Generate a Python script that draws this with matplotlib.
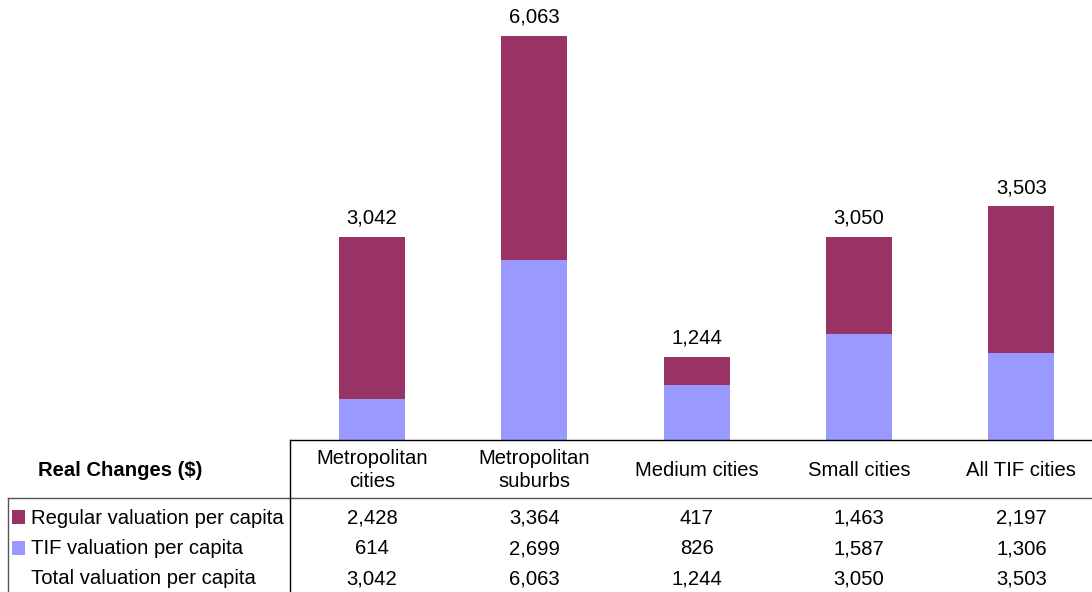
import matplotlib.pyplot as plt
import matplotlib.transforms as mtransforms
from matplotlib.lines import Line2D
from matplotlib.patches import Rectangle

plt.rcParams['font.family'] = ['Liberation Sans', 'DejaVu Sans']

categories = ['Metropolitan\ncities', 'Metropolitan\nsuburbs', 'Medium cities',
              'Small cities', 'All TIF cities']
regular = [2428, 3364, 417, 1463, 2197]
tif = [614, 2699, 826, 1587, 1306]
total = [3042, 6063, 1244, 3050, 3503]
row_labels = ['Regular valuation per capita', 'TIF valuation per capita',
              'Total valuation per capita']

regular_color = '#993366'
tif_color = '#9999FF'
fs = 14.6

W, H = 1092, 592
fig = plt.figure(figsize=(W / 100, H / 100), dpi=100)

# bar area sits above the data table; columns are ~162 px wide
col_w = 162.3
ax = fig.add_axes([291 / W, (H - 440) / H, 5 * col_w / W, 440 / H])
x = list(range(len(categories)))
ax.bar(x, tif, width=0.407, color=tif_color)
ax.bar(x, regular, width=0.407, bottom=tif, color=regular_color)
for xi, t in zip(x, total):
    ax.text(xi, t + 140, f'{t:,}', ha='center', va='bottom', fontsize=fs)
ax.set_xlim(-0.5, len(categories) - 0.5)
ax.set_ylim(0, 6600)
ax.axis('off')

# table: x follows the bar columns, y in figure pixels from the top
pix = mtransforms.Affine2D().scale(1, -1).translate(0, H)
col_tr = mtransforms.blended_transform_factory(ax.transData, pix)
fig_tr = pix

def hline(x0, x1, y, color='black'):
    fig.add_artist(Line2D([x0, x1], [y, y], transform=fig_tr, color=color, lw=1))

def vline(xp, y0, y1, color='black'):
    fig.add_artist(Line2D([xp, xp], [y0, y1], transform=fig_tr, color=color, lw=1))

hline(290, W, 440)
hline(8, W, 498, color='#555555')
vline(290, 440, H)
vline(8, 498, H, color='#555555')

fig.text(120, 470, 'Real Changes ($)', transform=fig_tr, ha='center', va='center',
         fontsize=fs, fontweight='bold')
for xi, c in zip(x, categories):
    fig.text(xi, 470, c, transform=col_tr, ha='center', va='center', fontsize=fs,
             linespacing=1.3)

row_y = [518, 549, 579]
row_values = [regular, tif, total]
row_colors = [regular_color, tif_color, None]
for y, lab, vals, col in zip(row_y, row_labels, row_values, row_colors):
    if col is not None:
        fig.add_artist(Rectangle((12, y - 8), 13, 14, transform=fig_tr,
                                 facecolor=col, edgecolor='none'))
    fig.text(31, y, lab, transform=fig_tr, ha='left', va='center', fontsize=fs)
    for xi, v in zip(x, vals):
        fig.text(xi, y, f'{v:,}', transform=col_tr, ha='center', va='center',
                 fontsize=fs)

fig.savefig('out.png', dpi=100)
